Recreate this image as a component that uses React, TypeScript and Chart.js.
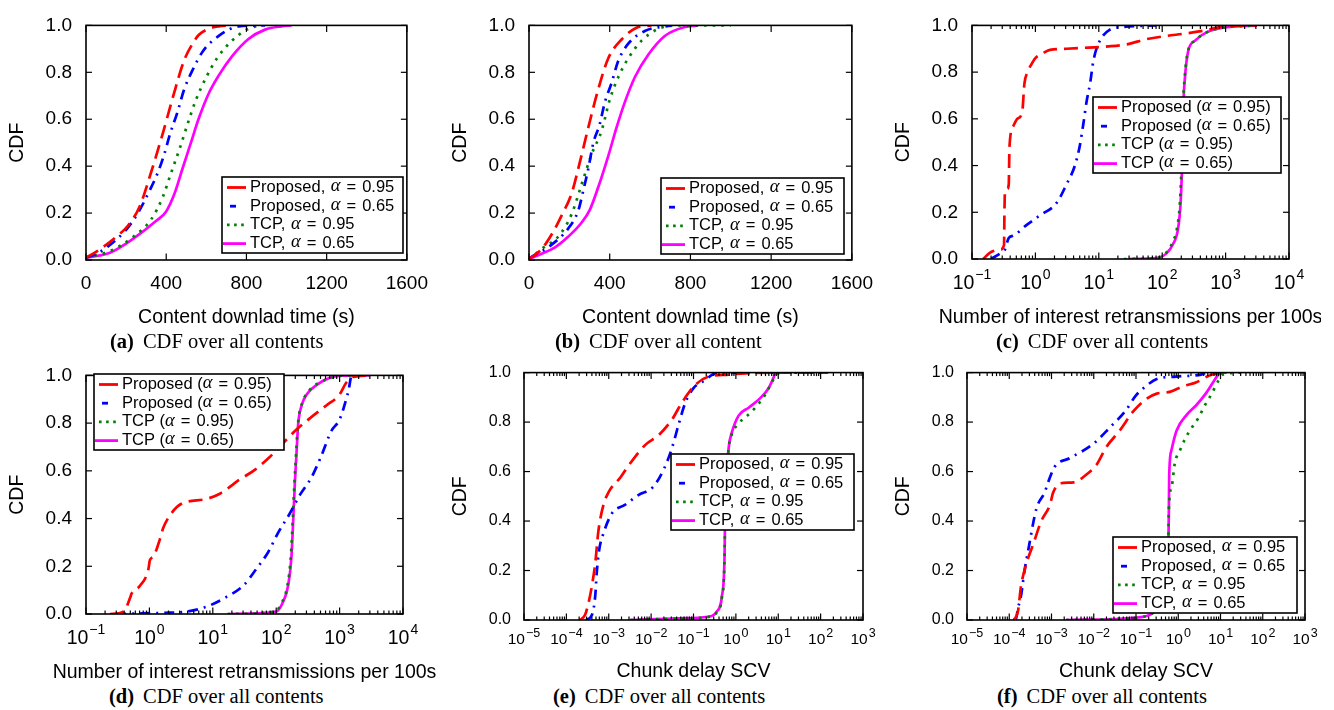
import React, { useEffect, useRef } from 'react';
import { Chart, registerables } from 'chart.js';

Chart.register(...registerables);

type Pt = [number, number];

const SANS = '"Liberation Sans", Arial, Helvetica, sans-serif';
const SERIF = '"Liberation Serif", "Times New Roman", serif';

// ---------- tick values ----------
const Y_TICKS = [0, 0.2, 0.4, 0.6, 0.8, 1.0];
const LIN_X_TICKS = [0, 400, 800, 1200, 1600];
const DECADES_CD = [-1, 0, 1, 2, 3, 4];
const DECADES_EF = [-5, -4, -3, -2, -1, 0, 1, 2, 3];

// ---------- legend text ----------
const SERIES_PREFIX = ['Proposed', 'Proposed', 'TCP', 'TCP'];
const SERIES_ALPHA = ['0.95', '0.65', '0.95', '0.65'];

// ---------- (a) content download time ----------
const A_PROP_95: Pt[] = [[0, 0.01], [60, 0.04], [152, 0.1], [209, 0.146], [267, 0.227], [325, 0.375], [382, 0.537], [432, 0.69], [489, 0.85], [530, 0.92], [563, 0.96], [610, 0.985], [662, 0.996], [720, 1.0]];
const A_PROP_65: Pt[] = [[0, 0.01], [60, 0.03], [110, 0.058], [201, 0.13], [259, 0.2], [316, 0.294], [357, 0.37], [390, 0.45], [420, 0.54], [456, 0.63], [489, 0.726], [530, 0.807], [583, 0.89], [662, 0.955], [761, 0.996], [893, 1.0]];
const A_TCP_95: Pt[] = [[0, 0.01], [119, 0.038], [234, 0.098], [325, 0.173], [382, 0.267], [423, 0.368], [465, 0.47], [506, 0.578], [547, 0.68], [596, 0.773], [654, 0.861], [728, 0.935], [802, 0.982], [860, 1.0]];
const A_TCP_65: Pt[] = [[0, 0.01], [119, 0.031], [234, 0.09], [349, 0.166], [399, 0.206], [440, 0.28], [481, 0.389], [522, 0.497], [563, 0.605], [613, 0.712], [662, 0.787], [728, 0.868], [810, 0.942], [893, 0.982], [975, 0.996], [1025, 1.0]];

// ---------- (b) content download time ----------
const B_PROP_95: Pt[] = [[0, 0.004], [63, 0.047], [120, 0.12], [162, 0.19], [211, 0.283], [252, 0.417], [294, 0.565], [343, 0.727], [393, 0.86], [459, 0.94], [533, 0.99], [607, 1.0]];
const B_PROP_65: Pt[] = [[0, 0.005], [13, 0.013], [104, 0.06], [195, 0.135], [244, 0.21], [269, 0.296], [294, 0.39], [319, 0.5], [351, 0.58], [376, 0.673], [409, 0.754], [442, 0.848], [492, 0.922], [574, 0.976], [706, 1.0]];
const B_TCP_95: Pt[] = [[0, 0.005], [13, 0.013], [63, 0.047], [153, 0.108], [211, 0.195], [261, 0.323], [310, 0.45], [360, 0.552], [401, 0.686], [450, 0.794], [492, 0.86], [558, 0.935], [640, 0.985], [739, 1.0], [1000, 1.0]];
const B_TCP_65: Pt[] = [[0, 0.005], [63, 0.027], [129, 0.054], [195, 0.1], [261, 0.16], [302, 0.215], [343, 0.31], [393, 0.444], [434, 0.565], [475, 0.673], [525, 0.78], [591, 0.875], [673, 0.955], [772, 0.993], [838, 1.0]];

// ---------- (c) interest retransmissions ----------
const C_PROP_95: Pt[] = [[0.15, 0], [0.2, 0.03], [0.28, 0.04], [0.32, 0.06], [0.325, 0.2], [0.33, 0.28], [0.36, 0.3], [0.38, 0.32], [0.39, 0.48], [0.45, 0.57], [0.52, 0.6], [0.62, 0.63], [0.67, 0.75], [0.75, 0.8], [0.85, 0.83], [1.0, 0.86], [1.3, 0.88], [1.7, 0.895], [3.1, 0.9], [6.8, 0.905], [14, 0.91], [29, 0.92], [54, 0.94], [118, 0.955], [229, 0.965], [500, 0.98], [910, 0.995], [3100, 1.0]];
const C_PROP_65: Pt[] = [[0.2, 0], [0.3, 0.03], [0.33, 0.04], [0.38, 0.09], [0.45, 0.1], [0.73, 0.146], [1.17, 0.186], [2.16, 0.24], [3.1, 0.32], [4.2, 0.4], [5.0, 0.483], [5.7, 0.578], [6.4, 0.672], [7.3, 0.753], [8.2, 0.847], [9.8, 0.92], [15, 0.982], [24, 0.993], [80, 1.0]];
const C_TCP_95: Pt[] = [[25, 0], [80, 0.004], [115, 0.026], [145, 0.07], [172, 0.135], [190, 0.24], [204, 0.44], [212, 0.645], [227, 0.78], [255, 0.89], [330, 0.935], [500, 0.97], [910, 0.99], [3100, 1.0]];
const C_TCP_65: Pt[] = [[30, 0], [81, 0.004], [117, 0.024], [149, 0.065], [178, 0.13], [195, 0.24], [208, 0.44], [215, 0.645], [229, 0.78], [257, 0.89], [330, 0.935], [500, 0.97], [910, 0.99], [3100, 1.0]];

// ---------- (d) interest retransmissions ----------
const D_PROP_95: Pt[] = [[0.24, 0], [0.39, 0.01], [0.5, 0.07], [0.52, 0.084], [0.71, 0.118], [0.96, 0.185], [1.02, 0.226], [1.15, 0.24], [1.47, 0.315], [1.65, 0.36], [2.24, 0.423], [3.2, 0.462], [7.9, 0.482], [12.9, 0.504], [26.7, 0.564], [46, 0.604], [79, 0.658], [209, 0.773], [339, 0.82], [617, 0.874], [1000, 0.92], [1270, 0.969], [1620, 0.993], [3000, 1.0]];
const D_PROP_65: Pt[] = [[0.3, 0], [1.65, 0.005], [3.9, 0.01], [7.9, 0.03], [16, 0.07], [30, 0.118], [49, 0.19], [75, 0.26], [107, 0.34], [163, 0.42], [234, 0.497], [356, 0.57], [510, 0.66], [740, 0.767], [1000, 0.815], [1270, 0.9], [1390, 0.94], [1510, 0.996]];
const D_TCP_95: Pt[] = [[17, 0], [95, 0.01], [124, 0.05], [150, 0.118], [170, 0.24], [183, 0.4], [194, 0.55], [206, 0.672], [220, 0.795], [262, 0.89], [340, 0.94], [480, 0.97], [760, 0.99], [1200, 1.0], [2000, 1.0]];
const D_TCP_65: Pt[] = [[18.6, 0], [100, 0.01], [128, 0.05], [154, 0.118], [174, 0.24], [186, 0.4], [197, 0.55], [209, 0.672], [222, 0.795], [253, 0.876], [302, 0.92], [436, 0.96], [703, 0.99], [1120, 0.999], [3000, 1.0]];

// ---------- (e) chunk delay SCV ----------
const E_PROP_95: Pt[] = [[2.1e-4, 0], [2.75e-4, 0.02], [3.3e-4, 0.066], [4e-4, 0.138], [4.8e-4, 0.23], [5.7e-4, 0.36], [7.5e-4, 0.465], [1e-3, 0.518], [1.9e-3, 0.577], [2.9e-3, 0.623], [7.3e-3, 0.708], [0.015, 0.747], [0.031, 0.81], [0.053, 0.878], [0.11, 0.95], [0.22, 0.983], [0.67, 0.992], [1.7, 0.997], [10, 1.0], [150, 1.0]];
const E_PROP_65: Pt[] = [[2.9e-4, 0], [4e-4, 0.02], [4.8e-4, 0.098], [5.2e-4, 0.19], [5.9e-4, 0.28], [7.4e-4, 0.347], [1.2e-3, 0.432], [2.4e-3, 0.465], [5e-3, 0.505], [0.011, 0.537], [0.02, 0.61], [0.031, 0.695], [0.045, 0.793], [0.064, 0.878], [0.1, 0.937], [0.19, 0.97], [0.32, 0.996], [3, 1.0], [150, 1.0]];
const E_TCP_95: Pt[] = [[3.2e-3, 0], [0.045, 0.006], [0.22, 0.012], [0.35, 0.03], [0.47, 0.095], [0.54, 0.25], [0.56, 0.45], [0.62, 0.61], [0.68, 0.7], [0.8, 0.75], [1.1, 0.79], [1.86, 0.826], [2.86, 0.858], [4.9, 0.91], [7, 0.96], [9, 0.99], [12, 1.0], [100, 1.0]];
const E_TCP_65: Pt[] = [[3.2e-3, 0], [0.045, 0.007], [0.22, 0.013], [0.35, 0.033], [0.47, 0.098], [0.54, 0.256], [0.56, 0.452], [0.62, 0.61], [0.68, 0.7], [0.81, 0.76], [1.16, 0.826], [2.0, 0.858], [3.76, 0.897], [5.9, 0.937], [7.9, 0.983], [8.6, 1.0], [18, 1.0]];

// ---------- (f) chunk delay SCV ----------
const F_PROP_95: Pt[] = [[1.28e-4, 0], [1.6e-4, 0.033], [1.9e-4, 0.137], [2.56e-4, 0.229], [3.7e-4, 0.307], [5.7e-4, 0.399], [9.1e-4, 0.464], [1.1e-3, 0.516], [1.57e-3, 0.552], [3.3e-3, 0.556], [6.7e-3, 0.588], [0.0116, 0.627], [0.02, 0.7], [0.041, 0.765], [0.086, 0.843], [0.18, 0.895], [0.31, 0.915], [0.63, 0.922], [1.3, 0.945], [2.7, 0.961], [4.3, 0.98], [6.7, 0.993], [10, 1.0]];
const F_PROP_65: Pt[] = [[1.28e-4, 0], [1.45e-4, 0.006], [1.6e-4, 0.046], [1.9e-4, 0.098], [2.3e-4, 0.2], [2.8e-4, 0.28], [4.4e-4, 0.45], [6.9e-4, 0.516], [8.3e-4, 0.556], [1.2e-3, 0.62], [2.7e-3, 0.654], [9.7e-3, 0.712], [0.024, 0.778], [0.055, 0.843], [0.1, 0.908], [0.18, 0.948], [0.31, 0.974], [0.9, 0.984], [3.6, 0.993], [4.5, 1.0]];
const F_TCP_95: Pt[] = [[2.2e-3, 0], [0.05, 0.006], [0.21, 0.02], [0.31, 0.04], [0.52, 0.098], [0.58, 0.255], [0.6, 0.45], [0.7, 0.54], [0.83, 0.634], [1.1, 0.686], [1.45, 0.732], [2.1, 0.778], [3.0, 0.817], [4.3, 0.869], [6.2, 0.915], [8.9, 0.967], [11.7, 0.993], [35, 1.0]];
const F_TCP_65: Pt[] = [[2.2e-3, 0], [0.05, 0.006], [0.21, 0.02], [0.31, 0.04], [0.52, 0.098], [0.58, 0.255], [0.6, 0.45], [0.61, 0.58], [0.69, 0.686], [0.91, 0.765], [1.6, 0.83], [2.7, 0.869], [4.7, 0.92], [6.7, 0.961], [8.9, 0.993], [10, 1.0], [14, 1.0]];

// ---------- series styles ----------
const STYLES = [
  { color: '#ff0000', dash: [14, 7], sample: [5, 24], sampleDash: [] as number[] },
  { color: '#0000ff', dash: [10, 6, 2, 6], sample: [8, 14], sampleDash: [] as number[] },
  { color: '#008000', dash: [2.6, 6], sample: [5, 22], sampleDash: [2.6, 4.5] },
  { color: '#ff00ff', dash: [] as number[], sample: [1, 24], sampleDash: [] as number[] },
];

interface Panel {
  key: string;
  letter: string;
  caption: string;
  canvas: { x: number; y: number; w: number; h: number };
  plot: { l: number; t: number; r: number; b: number };
  log: boolean;
  xMin: number;
  xMax: number;
  decades: number[];
  xTitle: string;
  series: Pt[][];
  legend: { x: number; y: number; w: number };
  paren: boolean;
  yFont: number;
  yPad: number;
  logBase: number;
  logExp: number;
  logDy: number;
  logRaise: number;
  xTitleDy: number;
  yTitleDx: number;
  capX: number;
  capY: number;
}

const PANELS: Panel[] = [
  {
    key: 'a', letter: '(a)', caption: 'CDF over all contents',
    canvas: { x: 0, y: 0, w: 440, h: 335 }, plot: { l: 86, t: 12, r: 410, b: 260 },
    log: false, xMin: 0, xMax: 1600, decades: [], xTitle: 'Content downlad time (s)',
    series: [A_PROP_95, A_PROP_65, A_TCP_95, A_TCP_65],
    legend: { x: 222, y: 177, w: 181 }, paren: false,
    yFont: 19, yPad: 14, logBase: 19.5, logExp: 13.5, logDy: 29.5, logRaise: 10,
    xTitleDy: 58, yTitleDx: 68, capX: 110, capY: 331,
  },
  {
    key: 'b', letter: '(b)', caption: 'CDF over all content',
    canvas: { x: 445, y: 0, w: 440, h: 335 }, plot: { l: 529, t: 12, r: 852, b: 260 },
    log: false, xMin: 0, xMax: 1600, decades: [], xTitle: 'Content downlad time (s)',
    series: [B_PROP_95, B_PROP_65, B_TCP_95, B_TCP_65],
    legend: { x: 661, y: 178, w: 183 }, paren: false,
    yFont: 19, yPad: 14, logBase: 19.5, logExp: 13.5, logDy: 29.5, logRaise: 10,
    xTitleDy: 58, yTitleDx: 68, capX: 555, capY: 331,
  },
  {
    key: 'c', letter: '(c)', caption: 'CDF over all contents',
    canvas: { x: 890, y: 0, w: 431, h: 335 }, plot: { l: 972, t: 12, r: 1289, b: 259 },
    log: true, xMin: 0.1, xMax: 1e4, decades: DECADES_CD, xTitle: 'Number of interest retransmissions per 100s',
    series: [C_PROP_95, C_PROP_65, C_TCP_95, C_TCP_65],
    legend: { x: 1093, y: 97, w: 188 }, paren: true,
    yFont: 19, yPad: 14, logBase: 19.5, logExp: 14, logDy: 30, logRaise: 10,
    xTitleDy: 59, yTitleDx: 68, capX: 996, capY: 331,
  },
  {
    key: 'd', letter: '(d)', caption: 'CDF over all contents',
    canvas: { x: 0, y: 350, w: 436, h: 335 }, plot: { l: 86, t: 367, r: 403, b: 614 },
    log: true, xMin: 0.1, xMax: 1e4, decades: DECADES_CD, xTitle: 'Number of interest retransmissions per 100s',
    series: [D_PROP_95, D_PROP_65, D_TCP_95, D_TCP_65],
    legend: { x: 94, y: 374, w: 190 }, paren: true,
    yFont: 19, yPad: 14, logBase: 19.5, logExp: 14, logDy: 30, logRaise: 10,
    xTitleDy: 59, yTitleDx: 68, capX: 109, capY: 686,
  },
  {
    key: 'e', letter: '(e)', caption: 'CDF over all contents',
    canvas: { x: 445, y: 350, w: 440, h: 335 }, plot: { l: 524, t: 366, r: 863, b: 620 },
    log: true, xMin: 1e-5, xMax: 1e3, decades: DECADES_EF, xTitle: 'Chunk delay SCV',
    series: [E_PROP_95, E_PROP_65, E_TCP_95, E_TCP_65],
    legend: { x: 671, y: 454, w: 183 }, paren: false,
    yFont: 16, yPad: 13, logBase: 15.5, logExp: 12.5, logDy: 23.5, logRaise: 7,
    xTitleDy: 52, yTitleDx: 63, capX: 553, capY: 686,
  },
  {
    key: 'f', letter: '(f)', caption: 'CDF over all contents',
    canvas: { x: 890, y: 350, w: 444, h: 335 }, plot: { l: 967, t: 365, r: 1305, b: 620 },
    log: true, xMin: 1e-5, xMax: 1e3, decades: DECADES_EF, xTitle: 'Chunk delay SCV',
    series: [F_PROP_95, F_PROP_65, F_TCP_95, F_TCP_65],
    legend: { x: 1113, y: 537, w: 184 }, paren: false,
    yFont: 16, yPad: 13, logBase: 15.5, logExp: 12.5, logDy: 23.5, logRaise: 7,
    xTitleDy: 52, yTitleDx: 63, capX: 997, capY: 686,
  },
];

function xTickList(p: Panel): { v: number; major: boolean }[] {
  if (!p.log) return LIN_X_TICKS.map((v) => ({ v, major: true }));
  const out: { v: number; major: boolean }[] = [];
  const d = p.decades;
  for (let i = 0; i < d.length; i++) {
    const base = Math.pow(10, d[i]);
    out.push({ v: base, major: true });
    if (i < d.length - 1) {
      for (let m = 2; m <= 9; m++) out.push({ v: m * base, major: false });
    }
  }
  return out;
}

function makeDecor(p: Panel) {
  return {
    id: 'decor_' + p.key,
    afterDatasetsDraw(chart: any) {
      const { ctx, chartArea: ca, scales } = chart;
      const xs = scales.x;
      const ys = scales.y;
      ctx.save();
      ctx.setLineDash([]);
      ctx.strokeStyle = '#000';
      ctx.fillStyle = '#000';
      ctx.lineWidth = 1.2;
      const seg = (x1: number, y1: number, x2: number, y2: number) => {
        ctx.beginPath();
        ctx.moveTo(x1, y1);
        ctx.lineTo(x2, y2);
        ctx.stroke();
      };
      for (const v of Y_TICKS) {
        const py = ys.getPixelForValue(v);
        seg(ca.left, py, ca.left + 6, py);
        seg(ca.right, py, ca.right - 6, py);
      }
      for (const t of xTickList(p)) {
        const px = xs.getPixelForValue(t.v);
        const len = t.major ? 6.5 : 3.5;
        seg(px, ca.bottom, px, ca.bottom - len);
        seg(px, ca.top, px, ca.top + len);
      }
      ctx.lineWidth = 1.6;
      ctx.strokeRect(ca.left, ca.top, ca.right - ca.left, ca.bottom - ca.top);

      // log tick labels 10^k
      if (p.log) {
        ctx.textAlign = 'left';
        ctx.textBaseline = 'alphabetic';
        for (const e of p.decades) {
          const px = xs.getPixelForValue(Math.pow(10, e));
          const base = '10';
          const ex = e < 0 ? '\u2212' + String(-e) : String(e);
          ctx.font = `${p.logBase}px ${SANS}`;
          const wb = ctx.measureText(base).width;
          ctx.font = `${p.logExp}px ${SANS}`;
          const we = ctx.measureText(ex).width;
          const x0 = px - (wb + we + 1) / 2;
          ctx.font = `${p.logBase}px ${SANS}`;
          ctx.fillText(base, x0, ca.bottom + p.logDy);
          ctx.font = `${p.logExp}px ${SANS}`;
          ctx.fillText(ex, x0 + wb + 1, ca.bottom + p.logDy - p.logRaise);
        }
      }

      // axis titles
      ctx.font = `19.5px ${SANS}`;
      ctx.textAlign = 'center';
      ctx.textBaseline = 'middle';
      ctx.fillText(p.xTitle, (ca.left + ca.right) / 2, ca.bottom + p.xTitleDy);
      ctx.save();
      ctx.translate(ca.left - p.yTitleDx, (ca.top + ca.bottom) / 2);
      ctx.rotate(-Math.PI / 2);
      ctx.fillText('CDF', 0, 0);
      ctx.restore();

      // legend
      const lx = p.legend.x - p.canvas.x;
      const ly = p.legend.y - p.canvas.y;
      const lh = 76;
      ctx.fillStyle = '#fff';
      ctx.fillRect(lx, ly, p.legend.w, lh);
      ctx.strokeStyle = '#000';
      ctx.lineWidth = 1.6;
      ctx.strokeRect(lx, ly, p.legend.w, lh);
      for (let i = 0; i < 4; i++) {
        const st = STYLES[i];
        const ry = ly + 10.5 + i * 18.7;
        ctx.strokeStyle = st.color;
        ctx.lineWidth = 2.8;
        ctx.lineCap = 'butt';
        ctx.setLineDash(st.sampleDash);
        seg(lx + st.sample[0], ry, lx + st.sample[1], ry);
        ctx.setLineDash([]);
        ctx.fillStyle = '#000';
        ctx.textAlign = 'left';
        ctx.textBaseline = 'middle';
        let cx = lx + 28;
        const pre = SERIES_PREFIX[i] + (p.paren ? ' (' : ', ');
        ctx.font = `16.5px ${SANS}`;
        ctx.fillText(pre, cx, ry);
        cx += ctx.measureText(pre).width + (p.paren ? 0 : 1);
        ctx.font = `italic 18.5px ${SERIF}`;
        ctx.fillText('\u03b1', cx, ry - 1);
        cx += ctx.measureText('\u03b1').width + 6;
        ctx.font = `16.5px ${SANS}`;
        ctx.fillText('=', cx, ry);
        cx += ctx.measureText('=').width + 6;
        const post = SERIES_ALPHA[i] + (p.paren ? ')' : '');
        ctx.fillText(post, cx, ry);
      }
      ctx.restore();
    },
  };
}

function PanelChart({ p }: { p: Panel }) {
  const ref = useRef<HTMLCanvasElement | null>(null);
  useEffect(() => {
    if (!ref.current) return;
    const datasets = p.series.map((pts, i) => ({
      label: SERIES_PREFIX[i] + ' ' + SERIES_ALPHA[i],
      data: pts.map(([x, y]) => ({ x, y })),
      borderColor: STYLES[i].color,
      backgroundColor: STYLES[i].color,
      borderWidth: 2.7,
      borderDash: STYLES[i].dash,
      borderCapStyle: 'butt' as const,
      pointRadius: 0,
      fill: false,
      cubicInterpolationMode: 'monotone' as const,
    }));
    const chart = new Chart(ref.current, {
      type: 'line',
      data: { datasets },
      plugins: [makeDecor(p)],
      options: {
        animation: false,
        responsive: false,
        maintainAspectRatio: false,
        events: [],
        layout: {
          padding: {
            left: 0,
            top: p.plot.t - p.canvas.y,
            right: p.canvas.x + p.canvas.w - p.plot.r,
            bottom: 0,
          },
        },
        plugins: { legend: { display: false }, tooltip: { enabled: false }, title: { display: false } },
        scales: {
          x: {
            type: p.log ? 'logarithmic' : 'linear',
            min: p.xMin,
            max: p.xMax,
            position: 'bottom',
            grid: { display: false, drawTicks: false },
            border: { display: false },
            ticks: p.log
              ? { display: false }
              : {
                  display: true,
                  color: '#000',
                  font: { family: SANS, size: 19 },
                  padding: 12,
                  maxRotation: 0,
                  autoSkip: false,
                  callback: (v: any) => String(v),
                },
            afterBuildTicks: (s: any) => {
              if (!p.log) s.ticks = LIN_X_TICKS.map((v) => ({ value: v }));
            },
            afterFit: (s: any) => {
              s.height = p.canvas.y + p.canvas.h - p.plot.b;
            },
          } as any,
          y: {
            type: 'linear',
            min: 0,
            max: 1,
            grid: { display: false, drawTicks: false },
            border: { display: false },
            ticks: {
              color: '#000',
              font: { family: SANS, size: p.yFont },
              padding: p.yPad,
              stepSize: 0.2,
              callback: (v: any) => Number(v).toFixed(1),
            },
            afterBuildTicks: (s: any) => {
              s.ticks = Y_TICKS.map((v) => ({ value: v }));
            },
            afterFit: (s: any) => {
              s.width = p.plot.l - p.canvas.x;
            },
          } as any,
        },
      },
    });
    return () => chart.destroy();
  }, [p]);
  return (
    <canvas
      ref={ref}
      width={p.canvas.w}
      height={p.canvas.h}
      style={{ position: 'absolute', left: p.canvas.x, top: p.canvas.y, width: p.canvas.w, height: p.canvas.h }}
    />
  );
}

export default function App() {
  return (
    <div style={{ position: 'absolute', left: 0, top: 0, width: 1334, height: 710, background: '#fff', overflow: 'hidden' }}>
      {PANELS.map((p) => (
        <PanelChart key={p.key} p={p} />
      ))}
      {PANELS.map((p) => (
        <div
          key={'cap' + p.key}
          style={{
            position: 'absolute',
            left: p.capX,
            top: p.capY,
            fontFamily: SERIF,
            fontSize: '20.5px',
            lineHeight: '20px',
            whiteSpace: 'nowrap',
            color: '#000',
          }}
        >
          <b>{p.letter}</b>
          <span style={{ marginLeft: 9 }}>{p.caption}</span>
        </div>
      ))}
    </div>
  );
}
